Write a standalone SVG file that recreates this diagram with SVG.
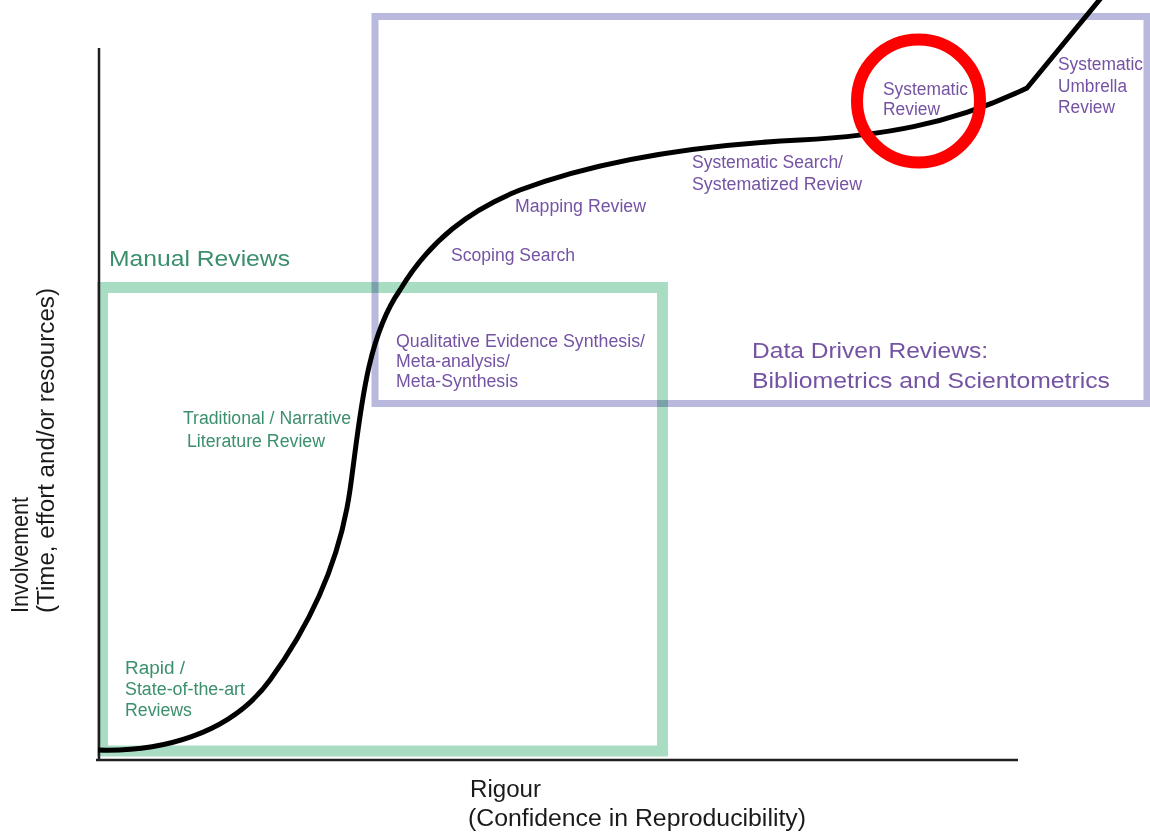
<svg xmlns="http://www.w3.org/2000/svg" width="1150" height="833" viewBox="0 0 1150 833">
<style>
text{font-family:"Liberation Sans",Arial,sans-serif}
.g{fill:#3b8f6c;font-size:18px}
.p{fill:#7553a3;font-size:18px}
.big{font-size:22px}
.ax{fill:#1a1a1a;font-size:23px}
</style>
<rect width="1150" height="833" fill="#ffffff"/>
<g id="data-driven-box">
<rect x="375" y="16.5" width="772" height="387" fill="none" stroke="#b9b9de" stroke-width="7"/>
<text class="p big" x="752" y="358" textLength="236" lengthAdjust="spacingAndGlyphs" fill="#7a3f9e">Data Driven Reviews:</text>
<text class="p big" x="752" y="388" textLength="358" lengthAdjust="spacingAndGlyphs" fill="#7a3f9e">Bibliometrics and Scientometrics</text>
</g>
<g id="manual-box" style="mix-blend-mode:multiply">
<rect x="102.5" y="287.5" width="560" height="463.5" fill="none" stroke="#a8ddc4" stroke-width="11"/>
</g>
<g id="manual-label">
<text class="g big" x="109" y="266" textLength="181" lengthAdjust="spacingAndGlyphs" fill="#2f9e69">Manual Reviews</text>
</g>
<g id="axes">
<line x1="99" y1="48" x2="99" y2="761" stroke="#1f1f1f" stroke-width="2.5"/>
<line x1="96" y1="760" x2="1018" y2="760" stroke="#1f1f1f" stroke-width="2.5"/>
<text class="ax" transform="translate(28,613) rotate(-90)" textLength="116" lengthAdjust="spacingAndGlyphs">Involvement</text>
<text class="ax" transform="translate(54,613) rotate(-90)" textLength="325" lengthAdjust="spacingAndGlyphs">(Time, effort and/or resources)</text>
<text class="ax" x="470" y="797" textLength="71" lengthAdjust="spacingAndGlyphs">Rigour</text>
<text class="ax" x="468" y="826" textLength="338" lengthAdjust="spacingAndGlyphs">(Confidence in Reproducibility)</text>
</g>
<g id="connectors">
<path d="M98 750 C160 752 230 735 270 680 C310 625 340 560 350 490 C360 420 365 340 400 290 C430 240 470 210 520 190 C600 160 700 145 800 140 C880 136 950 125 1027 88 L1101 -2" fill="none" stroke="#000" stroke-width="5" stroke-linejoin="round"/>
</g>
<g id="rapid">
<text class="g" x="125" y="674" textLength="60" lengthAdjust="spacingAndGlyphs">Rapid  /</text>
<text class="g" x="125" y="695" textLength="120" lengthAdjust="spacingAndGlyphs">State-of-the-art</text>
<text class="g" x="125" y="716" textLength="67" lengthAdjust="spacingAndGlyphs">Reviews</text>
</g>
<g id="traditional">
<text class="g" x="183" y="424" textLength="168" lengthAdjust="spacingAndGlyphs">Traditional / Narrative</text>
<text class="g" x="187" y="447" textLength="138" lengthAdjust="spacingAndGlyphs">Literature Review</text>
</g>
<g id="qualitative">
<text class="p" x="396" y="347" textLength="249" lengthAdjust="spacingAndGlyphs">Qualitative Evidence Synthesis/</text>
<text class="p" x="396" y="367" textLength="114" lengthAdjust="spacingAndGlyphs">Meta-analysis/</text>
<text class="p" x="396" y="387" textLength="122" lengthAdjust="spacingAndGlyphs">Meta-Synthesis</text>
</g>
<g id="scoping">
<text class="p" x="451" y="261" textLength="124" lengthAdjust="spacingAndGlyphs">Scoping Search</text>
</g>
<g id="mapping">
<text class="p" x="515" y="212" textLength="131" lengthAdjust="spacingAndGlyphs">Mapping Review</text>
</g>
<g id="systematic-search">
<text class="p" x="692" y="168" textLength="151" lengthAdjust="spacingAndGlyphs">Systematic Search/</text>
<text class="p" x="692" y="190" textLength="170" lengthAdjust="spacingAndGlyphs">Systematized Review</text>
</g>
<g id="systematic-review">
<text class="p" x="883" y="95" textLength="85" lengthAdjust="spacingAndGlyphs" fill="#8466b0">Systematic</text>
<text class="p" x="883" y="115" textLength="57" lengthAdjust="spacingAndGlyphs" fill="#8466b0">Review</text>
<circle cx="918.5" cy="101" r="61.5" fill="none" stroke="#ff0000" stroke-width="12"/>
</g>
<g id="umbrella">
<text class="p" x="1058" y="70" textLength="85" lengthAdjust="spacingAndGlyphs">Systematic</text>
<text class="p" x="1058" y="92" textLength="69" lengthAdjust="spacingAndGlyphs">Umbrella</text>
<text class="p" x="1058" y="113" textLength="57" lengthAdjust="spacingAndGlyphs">Review</text>
</g>
</svg>
